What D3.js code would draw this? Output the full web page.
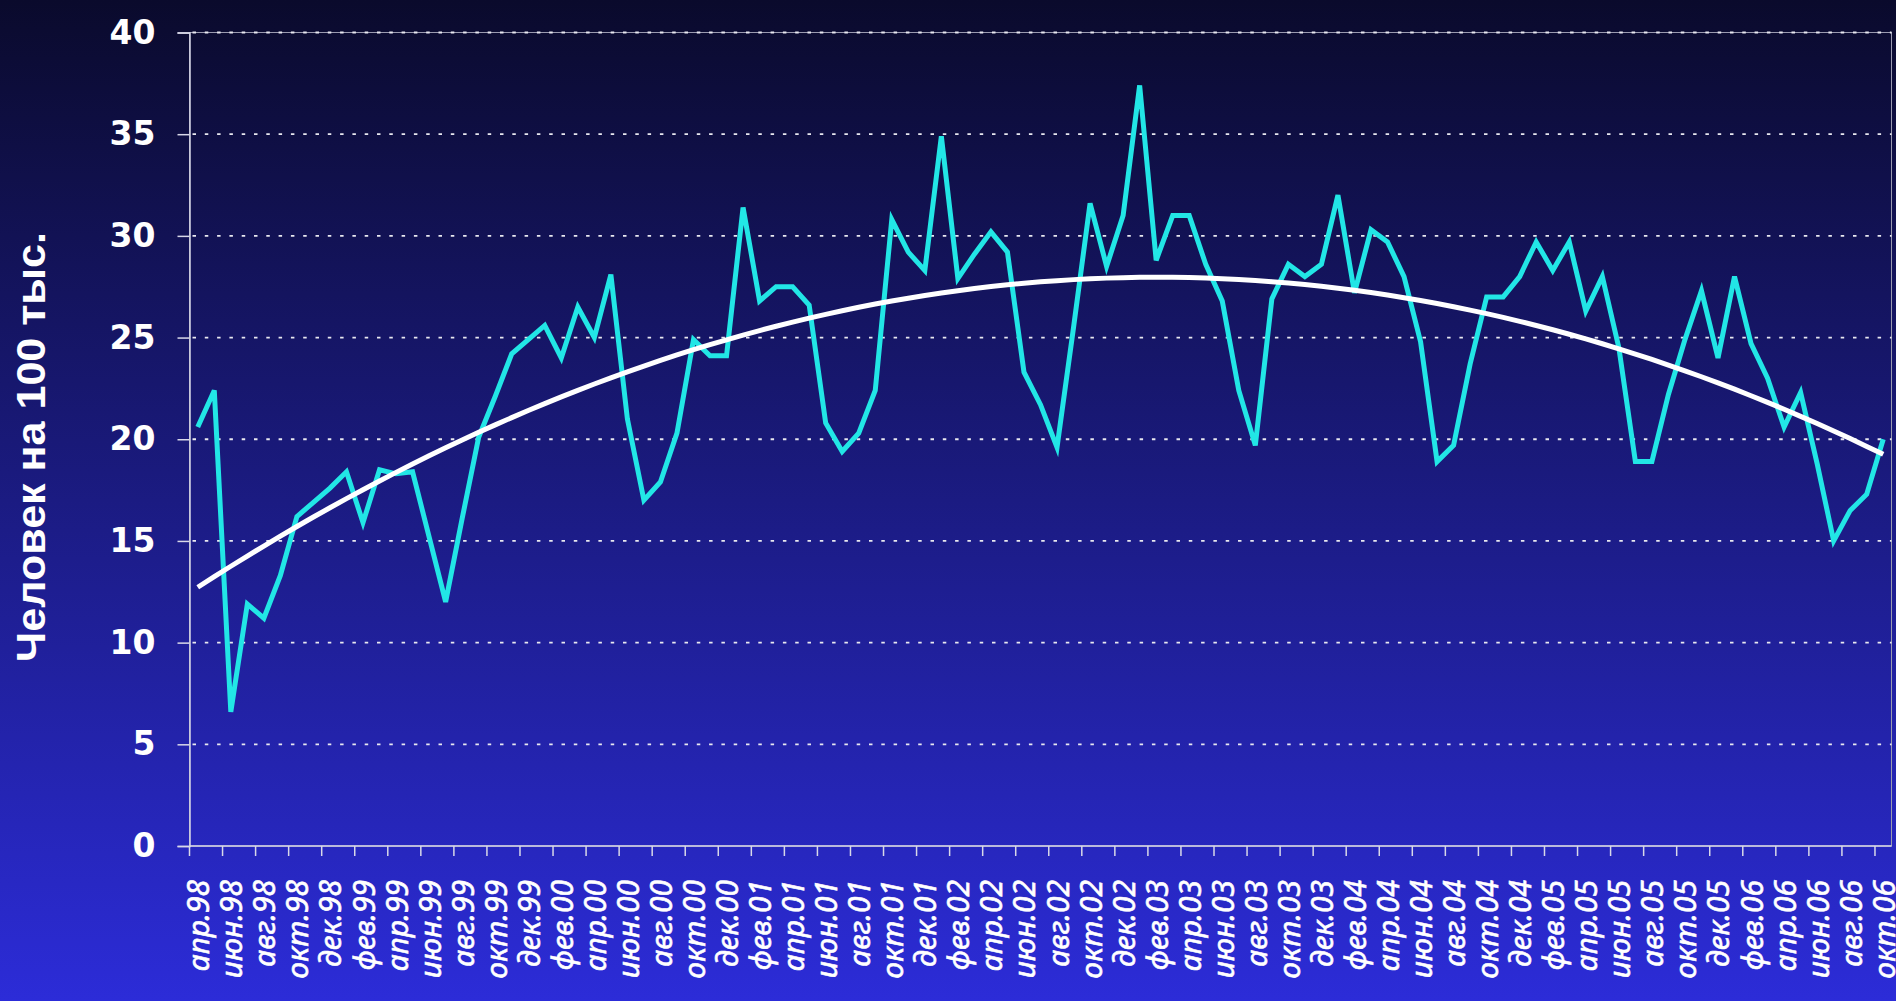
<!DOCTYPE html>
<html>
<head>
<meta charset="utf-8">
<script src="https://cdn.jsdelivr.net/npm/d3@7"></script>
<style>
  html, body { margin: 0; padding: 0; background: #0b0b2e; overflow: hidden; }
  svg { display: block; }
</style>
</head>
<body>
<svg id="chart" width="1896" height="1001"></svg>
<script>
// ---- data ----
const categories = [
  "апр.98","май.98","июн.98","июл.98","авг.98","сен.98","окт.98","ноя.98","дек.98",
  "янв.99","фев.99","мар.99","апр.99","май.99","июн.99","июл.99","авг.99","сен.99","окт.99","ноя.99","дек.99",
  "янв.00","фев.00","мар.00","апр.00","май.00","июн.00","июл.00","авг.00","сен.00","окт.00","ноя.00","дек.00",
  "янв.01","фев.01","мар.01","апр.01","май.01","июн.01","июл.01","авг.01","сен.01","окт.01","ноя.01","дек.01",
  "янв.02","фев.02","мар.02","апр.02","май.02","июн.02","июл.02","авг.02","сен.02","окт.02","ноя.02","дек.02",
  "янв.03","фев.03","мар.03","апр.03","май.03","июн.03","июл.03","авг.03","сен.03","окт.03","ноя.03","дек.03",
  "янв.04","фев.04","мар.04","апр.04","май.04","июн.04","июл.04","авг.04","сен.04","окт.04","ноя.04","дек.04",
  "янв.05","фев.05","мар.05","апр.05","май.05","июн.05","июл.05","авг.05","сен.05","окт.05","ноя.05","дек.05",
  "янв.06","фев.06","мар.06","апр.06","май.06","июн.06","июл.06","авг.06","сен.06","окт.06"
];
const values = [
  20.6, 22.4, 6.6, 11.9, 11.2, 13.3, 16.2, 16.9, 17.6, 18.4, 15.9, 18.5,
  18.3, 18.4, 15.2, 12.0, 16.1, 20.1, 22.1, 24.2, 24.9, 25.6, 24.0, 26.5,
  25.0, 28.1, 21.0, 17.0, 17.9, 20.3, 24.9, 24.1, 24.1, 31.4, 26.8, 27.5,
  27.5, 26.6, 20.8, 19.4, 20.3, 22.4, 30.8, 29.2, 28.3, 34.9, 27.9, 29.1,
  30.2, 29.2, 23.3, 21.7, 19.6, 25.5, 31.6, 28.5, 31.0, 37.4, 28.8, 31.0,
  31.0, 28.6, 26.8, 22.4, 19.7, 26.9, 28.6, 28.0, 28.6, 32.0, 27.2, 30.3,
  29.7, 28.0, 24.8, 18.9, 19.7, 23.7, 27.0, 27.0, 28.0, 29.7, 28.3, 29.7,
  26.3, 28.0, 24.5, 18.9, 18.9, 22.2, 24.9, 27.3, 24.0, 28.0, 24.7, 23.0,
  20.6, 22.3, 18.8, 15.0, 16.5, 17.3, 20.0
];
const yTicks = [0, 5, 10, 15, 20, 25, 30, 35, 40];
const yTitle = "Человек на 100 тыс.";
const labelStep = 2;

// ---- layout ----
const W = 1896, H = 1001;
const plot = { left: 189.5, right: 1891.5, top: 32.5, bottom: 846 };

const svg = d3.select("#chart");
const defs = svg.append("defs");
const grad = defs.append("linearGradient").attr("id", "bg")
  .attr("x1", 0).attr("y1", 0).attr("x2", 0).attr("y2", 1);
grad.append("stop").attr("offset", "0%").attr("stop-color", "#0a0a2c");
grad.append("stop").attr("offset", "100%").attr("stop-color", "#2c2cd8");
svg.append("rect").attr("width", W).attr("height", H).attr("fill", "url(#bg)");

const x = d3.scaleBand().domain(d3.range(categories.length))
  .range([plot.left, plot.right]).paddingInner(0).paddingOuter(0);
const cx = i => x(i) + x.bandwidth() / 2;
const y = d3.scaleLinear().domain([0, 40]).range([plot.bottom, plot.top]);

// plot border (thin gray)
svg.append("rect")
  .attr("x", plot.left).attr("y", plot.top)
  .attr("width", plot.right - plot.left).attr("height", plot.bottom - plot.top)
  .attr("fill", "none").attr("stroke", "#9a9ab0").attr("stroke-width", 1);

// gridlines
svg.append("g").selectAll("line").data(yTicks.filter(d => d > 0)).join("line")
  .attr("x1", plot.left + 3).attr("x2", plot.right)
  .attr("y1", d => y(d)).attr("y2", d => y(d))
  .attr("stroke", "#e8e8f0").attr("stroke-width", 1.8)
  .attr("stroke-dasharray", "3.5,8.8");

// y axis
const yAxis = d3.axisLeft(y).tickValues(yTicks).tickSize(12).tickPadding(22);
const gy = svg.append("g").attr("transform", `translate(${plot.left},0)`).call(yAxis);
gy.select(".domain").attr("stroke", "#d8d8e8").attr("stroke-width", 1.5);
gy.selectAll(".tick line").attr("stroke", "#d8d8e8").attr("stroke-width", 1.5);
gy.selectAll(".tick text")
  .attr("fill", "#ffffff")
  .style("font-family", "'DejaVu Sans', Verdana, sans-serif")
  .style("font-weight", "bold")
  .style("font-size", "33px");

// x axis
const boundaryTicks = d3.range(0, categories.length, labelStep);
svg.append("line")
  .attr("x1", plot.left).attr("x2", plot.right)
  .attr("y1", plot.bottom).attr("y2", plot.bottom)
  .attr("stroke", "#d8d8e8").attr("stroke-width", 1.5);
svg.append("g").selectAll("line").data(boundaryTicks).join("line")
  .attr("x1", i => x(i)).attr("x2", i => x(i))
  .attr("y1", plot.bottom).attr("y2", plot.bottom + 10)
  .attr("stroke", "#d8d8e8").attr("stroke-width", 1.5);

svg.append("g").selectAll("text").data(boundaryTicks).join("text")
  .attr("transform", i => `translate(${cx(i)},880) rotate(-90)`)
  .attr("text-anchor", "end")
  .attr("dominant-baseline", "central")
  .attr("fill", "#ffffff")
  .attr("stroke", "#ffffff")
  .attr("stroke-width", 0.6)
  .style("font-family", "'Noto Sans', 'Open Sans', sans-serif")
  .style("font-style", "italic")
  .style("font-size", "30px")
  .text(i => categories[i]);

// y title
svg.append("text")
  .attr("transform", "translate(31,447) rotate(-90)")
  .attr("text-anchor", "middle")
  .attr("dominant-baseline", "central")
  .attr("fill", "#ffffff")
  .attr("textLength", 430)
  .attr("lengthAdjust", "spacingAndGlyphs")
  .style("font-family", "'Liberation Sans', Arial, sans-serif")
  .style("font-weight", "bold")
  .style("font-size", "40px")
  .text(yTitle);

// data line
const line = d3.line().x((d, i) => cx(i)).y(d => y(d));
svg.append("path").datum(values)
  .attr("d", line)
  .attr("fill", "none")
  .attr("stroke", "#22e6e6")
  .attr("stroke-width", 5)
  .attr("stroke-linejoin", "miter");

// polynomial (order 2) trendline computed from the series, as Excel does
function quadFit(ys) {
  let S = [0,0,0,0,0], T = [0,0,0];
  ys.forEach((v, k) => {
    const t = k + 1;
    for (let p = 0; p < 5; p++) S[p] += Math.pow(t, p);
    for (let p = 0; p < 3; p++) T[p] += v * Math.pow(t, p);
  });
  const A = [[S[0],S[1],S[2],T[0]],[S[1],S[2],S[3],T[1]],[S[2],S[3],S[4],T[2]]];
  for (let c = 0; c < 3; c++) {
    for (let r = c + 1; r < 3; r++) {
      const f = A[r][c] / A[c][c];
      for (let k = c; k < 4; k++) A[r][k] -= f * A[c][k];
    }
  }
  const b = [0,0,0];
  for (let r = 2; r >= 0; r--) {
    let s = A[r][3];
    for (let k = r + 1; k < 3; k++) s -= A[r][k] * b[k];
    b[r] = s / A[r][r];
  }
  return ys.map((v, k) => b[0] + b[1] * (k + 1) + b[2] * (k + 1) * (k + 1));
}
const trend = quadFit(values);
svg.append("path").datum(trend)
  .attr("d", line)
  .attr("fill", "none")
  .attr("stroke", "#ffffff")
  .attr("stroke-width", 5);
</script>
</body>
</html>
